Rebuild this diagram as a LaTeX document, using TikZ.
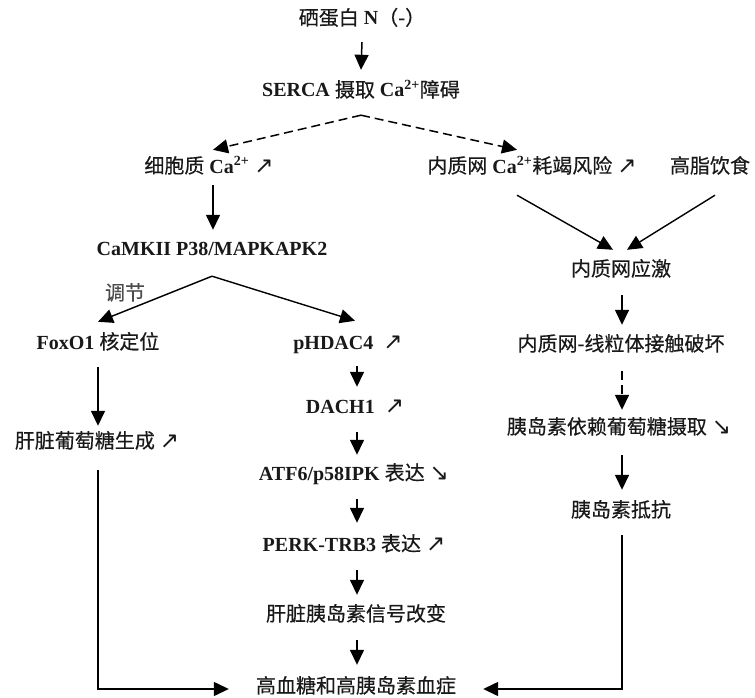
\documentclass[tikz,border=0pt]{standalone}
\usepackage{fontspec}
\setmainfont{Liberation Serif}
\newfontfamily\cjk{Noto Sans CJK SC}[UprightFeatures={FakeBold=0.4}]
\newfontfamily\symf{DejaVu Sans}
\usetikzlibrary{arrows.meta,calc}
\newcommand\zh[1]{{\cjk\mdseries #1}}
\newcommand\up{{\symf\mdseries\fontsize{23}{24}\selectfont ↗}}
\newcommand\dn{{\symf\mdseries\fontsize{23}{24}\selectfont ↘}}
\newcommand\sca{\textsuperscript{2+}}
\begin{document}
\begin{tikzpicture}[x=1pt,y=-1pt,
  lbl/.style={inner sep=0pt,text height=15pt,text depth=5pt,anchor=center,
    font=\fontsize{20}{24}\selectfont\bfseries,text=black!90},
  arr/.style={line width=1.5pt,-{Triangle[length=15pt,width=14pt]}},
  darr/.style={arr,dash pattern=on 9pt off 5pt},
  lnarr/.style={line width=1.4pt,-{Triangle[length=15pt,width=14pt]}}]
\path[use as bounding box,fill=white] (0,0) rectangle (755,698);
\coordinate (mx) at (357,0);
\coordinate (rx) at (622,0);
\node[lbl] (n1) at (362,20) {\zh{硒蛋白} N\zh{（-）}};
\node[lbl] (n2) at (361,92) {SERCA \zh{摄取} Ca\sca\zh{障碍}};
\node[lbl] (n3) at (209,168) {\zh{细胞质} Ca\sca\ \up};
\node[lbl] (n4) at (532,168) {\zh{内质网} Ca\sca\zh{耗竭风险} \up};
\node[lbl] (n5) at (710,168) {\zh{高脂饮食}};
\node[lbl] (n6) at (212,250) {CaMKII P38/MAPKAPK2};
\node[lbl,text=black!70] (lab) at (125,295) {\zh{调节}};
\node[lbl] (n7) at (98,344) {FoxO1 \zh{核定位}};
\node[lbl] (n8) at (348,344) {pHDAC4 \ \up};
\node[lbl] (n9) at (97,443) {\zh{肝脏葡萄糖生成} \up};
\node[lbl] (n10) at (355,408) {DACH1 \ \up};
\node[lbl] (n11) at (354,475) {ATF6/p58IPK \zh{表达} \dn};
\node[lbl] (n12) at (354,546) {PERK-TRB3 \zh{表达} \up};
\node[lbl] (n13) at (356,616) {\zh{肝脏胰岛素信号改变}};
\node[lbl] (n14) at (356,688) {\zh{高血糖和高胰岛素血症}};
\node[lbl] (n15) at (621,271) {\zh{内质网应激}};
\node[lbl] (n16) at (621,346) {\zh{内质网-线粒体接触破坏}};
\node[lbl] (n17) at (619,429) {\zh{胰岛素依赖葡萄糖摄取} \dn};
\node[lbl] (n18) at (621,512) {\zh{胰岛素抵抗}};
% top
\draw[arr] ($(n1.south)+(0,12)$) -- ($(n2.north)+(0,-12)$);
\draw[darr] ($(n2.south)+(0,13)$) -- ($(n3.north)+(4,-8)$);
\draw[darr] ($(n2.south)+(0,13)$) -- ($(n4.north)+(-15,-8)$);
% left
\draw[arr] ($(n3.south)+(4,7)$) -- ($(n6.north)+(1,-10)$);
\draw[lnarr] ($(n6.south)+(0,16)$) -- ($(n7.north)+(0,-12)$);
\draw[lnarr] ($(n6.south)+(0,16)$) -- ($(n8.north)+(7,-13)$);
\draw[arr] ($(n7.south)+(0,13)$) -- ($(n9.north)+(1,-7)$);
\draw[lnarr] ($(n9.south)+(1,17)$) |- ($(n14.west)+(-27,1)$);
% middle chain
\draw[arr] ($(n8.south -| mx)+(0,12)$) -- ($(n10.north -| mx)+(0,-11)$);
\draw[arr] ($(n10.south -| mx)+(0,14)$) -- ($(n11.north -| mx)+(0,-10)$);
\draw[arr] ($(n11.south -| mx)+(0,14)$) -- ($(n12.north -| mx)+(0,-13)$);
\draw[arr] ($(n12.south -| mx)+(0,14)$) -- ($(n13.north -| mx)+(0,-11)$);
\draw[arr] ($(n13.south -| mx)+(0,14)$) -- ($(n14.north -| mx)+(0,-13)$);
% right
\draw[lnarr] ($(n4.south)+(-15,17)$) -- ($(n15.north)+(-8,-11)$);
\draw[lnarr] ($(n5.south)+(5,17)$) -- ($(n15.north)+(6,-11)$);
\draw[arr] ($(n15.south -| rx)+(0,14)$) -- ($(n16.north -| rx)+(0,-11)$);
\draw[darr] ($(n16.south -| rx)+(0,15)$) -- ($(n17.north -| rx)+(0,-9)$);
\draw[arr] ($(n17.south -| rx)+(0,16)$) -- ($(n18.north -| rx)+(0,-12)$);
\draw[lnarr] ($(n18.south -| rx)+(0,13)$) |- ($(n14.east)+(27,1)$);
\end{tikzpicture}
\end{document}
